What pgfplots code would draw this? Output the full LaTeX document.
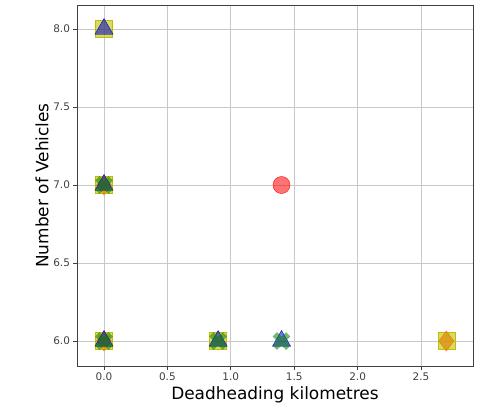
\documentclass[border=0pt]{standalone}
\usepackage{fontspec}
\setmainfont{DejaVu Sans}
\usepackage{pgfplots}
\pgfplotsset{compat=1.18}
\definecolor{myyel}{RGB}{191,191,0}
\definecolor{myorg}{RGB}{225,130,0}
\definecolor{myred}{RGB}{255,0,0}
\definecolor{myblu}{RGB}{0,0,200}
\definecolor{mygrn}{RGB}{0,128,0}
\definecolor{gridc}{RGB}{200,200,200}
\pgfdeclareplotmark{Xf}{%
  \pgftransformrotate{45}%
  \pgfpathmoveto{\pgfpoint{0.32\pgfplotmarksize}{\pgfplotmarksize}}%
  \pgfpathlineto{\pgfpoint{0.32\pgfplotmarksize}{0.32\pgfplotmarksize}}%
  \pgfpathlineto{\pgfpoint{\pgfplotmarksize}{0.32\pgfplotmarksize}}%
  \pgfpathlineto{\pgfpoint{\pgfplotmarksize}{-0.32\pgfplotmarksize}}%
  \pgfpathlineto{\pgfpoint{0.32\pgfplotmarksize}{-0.32\pgfplotmarksize}}%
  \pgfpathlineto{\pgfpoint{0.32\pgfplotmarksize}{-\pgfplotmarksize}}%
  \pgfpathlineto{\pgfpoint{-0.32\pgfplotmarksize}{-\pgfplotmarksize}}%
  \pgfpathlineto{\pgfpoint{-0.32\pgfplotmarksize}{-0.32\pgfplotmarksize}}%
  \pgfpathlineto{\pgfpoint{-\pgfplotmarksize}{-0.32\pgfplotmarksize}}%
  \pgfpathlineto{\pgfpoint{-\pgfplotmarksize}{0.32\pgfplotmarksize}}%
  \pgfpathlineto{\pgfpoint{-0.32\pgfplotmarksize}{0.32\pgfplotmarksize}}%
  \pgfpathlineto{\pgfpoint{-0.32\pgfplotmarksize}{\pgfplotmarksize}}%
  \pgfpathclose
  \pgfusepathqfill}
\begin{document}
\begin{tikzpicture}
\begin{axis}[
  scale only axis,
  width=396bp, height=361bp,
  xmin=-0.213, xmax=2.91,
  ymin=5.84, ymax=8.154,
  xtick={0,0.5,1,1.5,2,2.5},
  ytick={6,6.5,7,7.5,8},
  xticklabel style={/pgf/number format/.cd,fixed,fixed zerofill,precision=1},
  yticklabel style={/pgf/number format/.cd,fixed,fixed zerofill,precision=1},
  /pgf/number format/assume math mode=true,
  tick label style={font=\fontsize{10.5}{12}\selectfont, text=black!75},
  label style={font=\fontsize{17}{20}\selectfont},
  xlabel={Deadheading kilometres},
  ylabel={Number of Vehicles},
  grid=major,
  major grid style={gridc, line width=1bp},
  tick align=outside,
  major tick length=3.5bp,
  tick style={black!75, line width=0.8bp},
  axis line style={black!75, line width=0.9bp},
  xtick pos=bottom, ytick pos=left,
  xlabel style={yshift=1bp},
  ylabel style={yshift=-2bp},
]
\addplot[only marks, mark=square*, mark size=8.5bp, color=myyel, mark options={draw=none, fill=myyel, fill opacity=0.6}]
  coordinates {(0,8) (0,7) (0,6) (0.9,6) (2.7,6)};
\addplot[only marks, mark=diamond*, mark size=10bp, color=myorg, mark options={draw=none, fill=myorg, fill opacity=0.65}]
  coordinates {(0,7) (0,6) (2.7,6)};
\addplot[only marks, mark=*, mark size=8.5bp, color=myred, mark options={draw=none, fill=myred, fill opacity=0.55}]
  coordinates {(1.4,7)};
\addplot[only marks, mark=triangle*, mark size=10.5bp, color=myblu, mark options={draw=none, fill=myblu, fill opacity=0.55}]
  coordinates {(0,8) (0,7) (0,6) (0.9,6) (1.4,6)};
\addplot[only marks, mark=Xf, mark size=9.5bp, color=mygrn, mark options={draw=none, fill=mygrn, fill opacity=0.55}]
  coordinates {(0,7) (0,6) (0.9,6) (1.4,6)};
\end{axis}
\path[use as bounding box] (-77bp,-42bp) rectangle (405bp,366bp);
\end{tikzpicture}
\end{document}
